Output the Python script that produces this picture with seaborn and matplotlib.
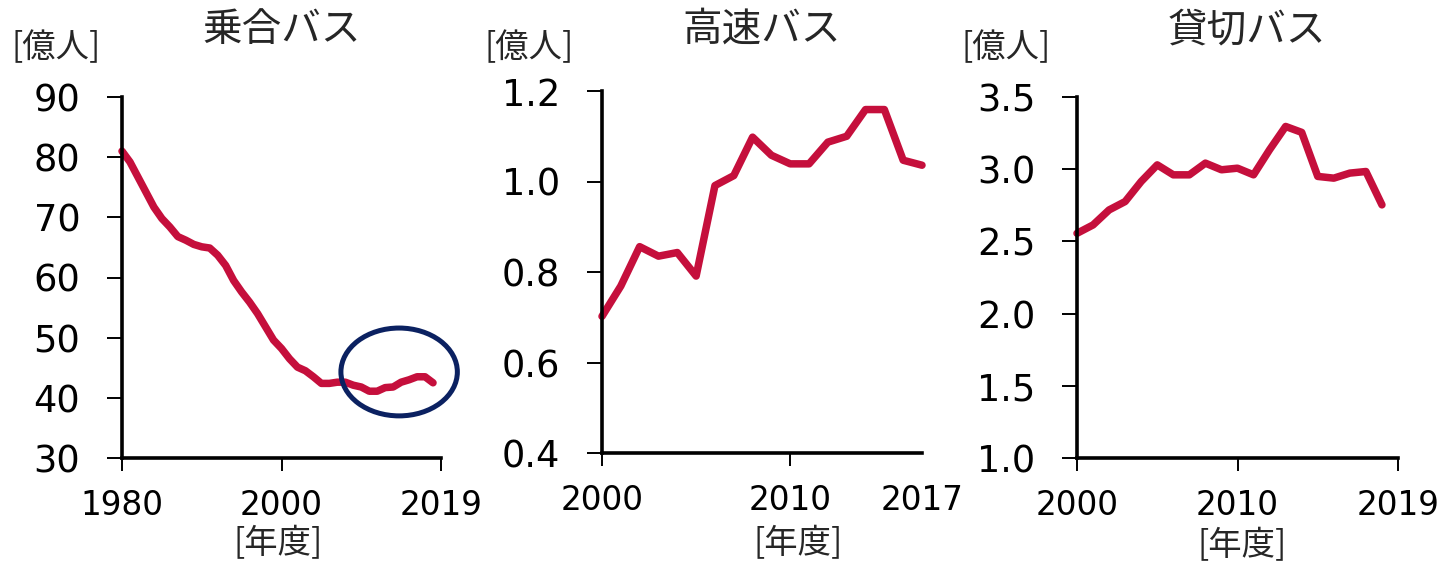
import matplotlib
matplotlib.use("Agg")
import matplotlib.pyplot as plt
from matplotlib.patches import Ellipse
import seaborn as sns
import pandas as pd

# ---------------- data ----------------
years_local = list(range(1980, 2020))
local_bus = [81.0, 79.2, 76.7, 74.2, 71.7, 69.8, 68.4, 66.8, 66.2, 65.5,
             65.1, 64.9, 63.7, 62.0, 59.5, 57.6, 55.9, 54.0, 51.8, 49.6,
             48.2, 46.5, 45.1, 44.5, 43.5, 42.4, 42.4, 42.6, 42.6, 42.1,
             41.8, 41.1, 41.1, 41.7, 41.8, 42.6, 43.0, 43.5, 43.5, 42.5]

years_express = list(range(2000, 2018))
express_bus = [0.702, 0.769, 0.856, 0.835, 0.843, 0.791, 0.991, 1.013, 1.098,
               1.058, 1.039, 1.039, 1.087, 1.100, 1.159, 1.159, 1.047, 1.036]

years_charter = list(range(2000, 2020))
charter_bus = [2.556, 2.614, 2.718, 2.776, 2.915, 3.030, 2.961, 2.961, 3.042,
               2.996, 3.007, 2.961, 3.135, 3.296, 3.255, 2.950, 2.938, 2.973,
               2.984, 2.753]

titles = ["乗合バス", "高速バス", "貸切バス"]
unit_label = "[億人]"
year_label = "[年度]"

x_ticks = [[1980, 2000, 2020], [2000, 2010, 2017], [2000, 2010, 2020]]
x_ticklabels = [["1980", "2000", "2019"], ["2000", "2010", "2017"], ["2000", "2010", "2019"]]
x_lims = [(1980, 2020), (2000, 2017), (2000, 2020)]
y_ticks = [[30, 40, 50, 60, 70, 80, 90],
           [0.4, 0.6, 0.8, 1.0, 1.2],
           [1.0, 1.5, 2.0, 2.5, 3.0, 3.5]]
y_fmt = ["{:.0f}", "{:.1f}", "{:.1f}"]

# ---------------- style ----------------
sns.set_style("white")
plt.rcParams["font.family"] = ["DejaVu Sans", "Noto Sans CJK JP"]
cjk = ["Noto Sans CJK JP", "DejaVu Sans"]

LINE = "#C50F3C"
NAVY = "#0B2161"

W, H = 1442, 563
fig = plt.figure(figsize=(W / 100, H / 100), dpi=100)

# axes boxes in pixels: left, right, top, bottom
boxes = [(122, 441, 97, 458), (602, 922, 91, 453), (1077, 1398, 97, 458)]
title_x = [282, 762, 1247]
unit_x = [56, 529, 1006]
year_pos = [(278, 544), (798, 544), (1242, 546)]

datasets = [(years_local, local_bus), (years_express, express_bus),
            (years_charter, charter_bus)]

axes = []
for i, (l, r, t, b) in enumerate(boxes):
    ax = fig.add_axes([l / W, (H - b) / H, (r - l) / W, (b - t) / H])
    axes.append(ax)
    xs, ys = datasets[i]
    df = pd.DataFrame({"year": xs, "value": ys})
    sns.lineplot(data=df, x="year", y="value", ax=ax, color=LINE, linewidth=5.4,
                 solid_capstyle="round", solid_joinstyle="round", clip_on=False)
    ax.set_xlim(*x_lims[i])
    ax.set_ylim(y_ticks[i][0], y_ticks[i][-1])
    ax.set_xticks(x_ticks[i])
    ax.set_xticklabels(x_ticklabels[i])
    ax.set_yticks(y_ticks[i])
    ax.set_yticklabels([y_fmt[i].format(v) for v in y_ticks[i]])
    ax.set_xlabel("")
    ax.set_ylabel("")
    for s in ["top", "right"]:
        ax.spines[s].set_visible(False)
    for s in ["left", "bottom"]:
        ax.spines[s].set_linewidth(2.6)
        ax.spines[s].set_color("black")
    ax.tick_params(axis="y", which="major", direction="out", length=11, width=1.4,
                   labelsize=26.5, pad=19, left=True, colors="black")
    ax.tick_params(axis="x", which="major", direction="out", length=9, width=1.4,
                   labelsize=23.5, pad=13, bottom=True, colors="black")
    ax.patch.set_alpha(0)

    fig.text(title_x[i] / W, 1 - 30 / H, titles[i], fontsize=28.5, family=cjk,
             ha="center", va="center")
    fig.text(unit_x[i] / W, 1 - 48 / H, unit_label, fontsize=24, family=cjk,
             ha="center", va="center")
    fig.text(year_pos[i][0] / W, 1 - year_pos[i][1] / H, year_label, fontsize=24,
             family=cjk, ha="center", va="center")

# no tick mark at the right end of the express-bus axis
axes[1].xaxis.get_major_ticks()[2].tick1line.set_visible(False)

# highlight ellipse on the first panel
ell = Ellipse((2014.75, 44.3), width=14.6, height=14.6, fill=False,
              edgecolor=NAVY, linewidth=3.6, clip_on=False, zorder=5)
axes[0].add_patch(ell)

fig.savefig("out.png", dpi=100)
